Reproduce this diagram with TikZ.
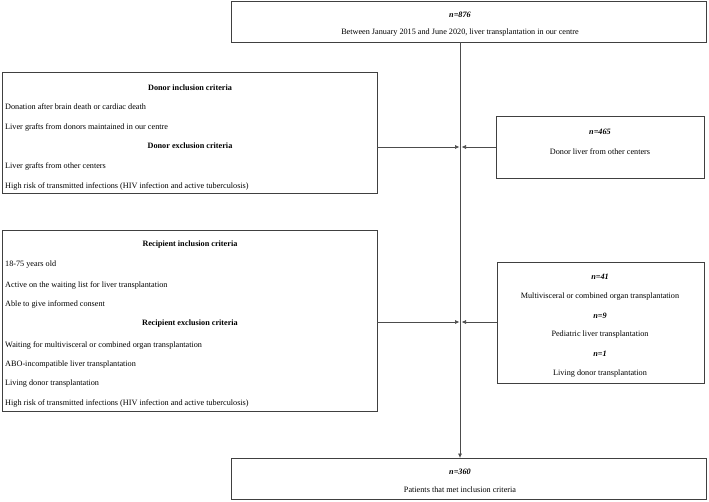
\documentclass[tikz,border=0pt]{standalone}
\usepackage{fontspec}
\setmainfont{Liberation Serif}
\usetikzlibrary{arrows.meta}
\begin{document}
\begin{tikzpicture}[x=1pt,y=-1pt,
  box/.style={draw=black!75, line width=0.9pt, rectangle, inner sep=0pt, outer sep=0pt},
  txt/.style={inner sep=0pt, font=\fontsize{8.2}{10}\selectfont},
  hd/.style={txt, font=\fontsize{8.2}{10}\selectfont\bfseries},
  nn/.style={txt, font=\fontsize{8.2}{10}\selectfont\bfseries\itshape},
  ln/.style={draw=black!70, line width=0.7pt},
  arr/.style={ln, -{Latex[length=4.5pt,width=4pt]}}]
\useasboundingbox (0,0) rectangle (709,501);
\fill[white] (0,0) rectangle (709,501);
% boxes
\node[box, minimum width=475pt, minimum height=41pt] (top) at (468.5,21.5) {};
\node[box, minimum width=375pt, minimum height=121pt] (donor) at (189.5,132.5) {};
\node[box, minimum width=208pt, minimum height=62pt] (r1) at (600,147) {};
\node[box, minimum width=375pt, minimum height=181pt] (recip) at (189.5,320.5) {};
\node[box, minimum width=207pt, minimum height=121pt] (r2) at (600.5,322.5) {};
\node[box, minimum width=475pt, minimum height=41pt] (bot) at (468.5,478.5) {};
% top text
\node[nn] (t1) at (460,15) {n=876};
\node[txt] (t2) at (460,33) {Between January 2015 and June 2020, liver transplantation in our centre};
% donor text
\node[hd] (d0) at (190,88) {Donor inclusion criteria};
\node[txt, anchor=west] (d1) at (5,107) {Donation after brain death or cardiac death};
\node[txt, anchor=west] (d2) at (5,127) {Liver grafts from donors maintained in our centre};
\node[hd] (d3) at (190,146) {Donor exclusion criteria};
\node[txt, anchor=west] (d4) at (5,166) {Liver grafts from other centers};
\node[txt, anchor=west] (d5) at (5,186.5) {High risk of transmitted infections (HIV infection and active tuberculosis)};
% r1 text
\node[nn] (a1) at (600,132) {n=465};
\node[txt] (a2) at (600,152) {Donor liver from other centers};
% recipient text
\node[hd] (c0) at (190,245) {Recipient inclusion criteria};
\node[txt, anchor=west] (c1) at (5,265) {18-75 years old};
\node[txt, anchor=west] (c2) at (5,285) {Active on the waiting list for liver transplantation};
\node[txt, anchor=west] (c3) at (5,304) {Able to give informed consent};
\node[hd] (c4) at (190,324) {Recipient exclusion criteria};
\node[txt, anchor=west] (c5) at (5,345) {Waiting for multivisceral or combined organ transplantation};
\node[txt, anchor=west] (c6) at (5,365) {ABO-incompatible liver transplantation};
\node[txt, anchor=west] (c7) at (5,384) {Living donor transplantation};
\node[txt, anchor=west] (c8) at (5,403) {High risk of transmitted infections (HIV infection and active tuberculosis)};
% r2 text
\node[nn] (b1) at (600,277) {n=41};
\node[txt] (b2) at (600,297) {Multivisceral or combined organ transplantation};
\node[nn] (b3) at (600,316) {n=9};
\node[txt] (b4) at (600,335) {Pediatric liver transplantation};
\node[nn] (b5) at (600,354) {n=1};
\node[txt] (b6) at (600,374) {Living donor transplantation};
% bottom text
\node[nn] (e1) at (460,472) {n=360};
\node[txt] (e2) at (460,490) {Patients that met inclusion criteria};
% connectors
\coordinate (vt) at (460,42);
\coordinate (vb) at (460,458);
\coordinate (j1) at (459.5,147);
\coordinate (j1r) at (461.5,147);
\coordinate (j2) at (459.5,322);
\coordinate (j2r) at (461.5,322);
\draw[arr] (vt) -- (vb);
\draw[arr] (donor.east |- j1) -- (j1);
\draw[arr] (r1.west) -- (j1r);
\draw[arr] (recip.east |- j2) -- (j2);
\draw[arr] (r2.west |- j2r) -- (j2r);
\end{tikzpicture}
\end{document}
